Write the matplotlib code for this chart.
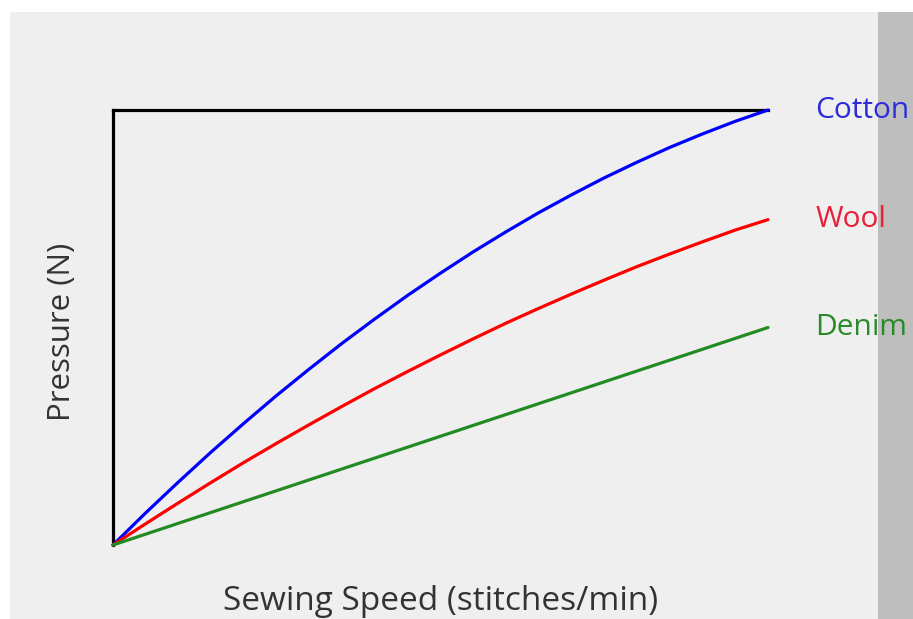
import matplotlib
matplotlib.use("Agg")
import matplotlib.pyplot as plt
from matplotlib.patches import Rectangle

# Data (normalized sewing speed vs pressure)
speed = [0.0, 0.05, 0.10, 0.15, 0.20, 0.25, 0.30, 0.35, 0.40, 0.45, 0.50,
         0.55, 0.60, 0.65, 0.70, 0.75, 0.80, 0.85, 0.90, 0.95, 1.0]
cotton = [0.0, 0.074, 0.145, 0.214, 0.28, 0.344, 0.405, 0.464, 0.52, 0.574, 0.625,
          0.674, 0.72, 0.764, 0.805, 0.844, 0.88, 0.914, 0.945, 0.974, 1.0]
wool = [0.0, 0.049, 0.097, 0.144, 0.19, 0.234, 0.277, 0.319, 0.36, 0.399, 0.437,
        0.474, 0.51, 0.544, 0.577, 0.609, 0.64, 0.669, 0.697, 0.724, 0.748]
denim = [0.0, 0.025, 0.05, 0.075, 0.10, 0.125, 0.15, 0.175, 0.20, 0.225, 0.25,
         0.275, 0.30, 0.325, 0.35, 0.375, 0.40, 0.425, 0.45, 0.475, 0.50]
series_names = ["Cotton", "Wool", "Denim"]
series_colors = ["#0000ff", "#ff0000", "#228b22"]
label_colors = ["#2b2bdc", "#e8203a", "#2a8a2a"]

plt.rcParams['font.family'] = ['Open Sans', 'DejaVu Sans']

W, H = 913, 619
fig = plt.figure(figsize=(W / 100, H / 100), dpi=100)
fig.patch.set_facecolor("white")

# panel background and right strip
fig.patches.append(Rectangle((10 / W, 0), (878 - 10) / W, (H - 12) / H,
                             transform=fig.transFigure, facecolor="#efefef",
                             edgecolor="none", zorder=-10))
fig.patches.append(Rectangle((878 / W, 0), (W - 878) / W, (H - 12) / H,
                             transform=fig.transFigure, facecolor="#bebebe",
                             edgecolor="none", zorder=-9))

ax = fig.add_axes([113 / W, 1 - 545 / H, (768 - 113) / W, (545 - 110) / H])
ax.set_facecolor("none")
ax.set_xlim(0, 1)
ax.set_ylim(0, 1)
for s in ["right", "bottom"]:
    ax.spines[s].set_visible(False)
for s in ["left", "top"]:
    ax.spines[s].set_linewidth(2.3)
    ax.spines[s].set_color("black")
ax.set_xticks([])
ax.set_yticks([])

for name, vals, c, lc in zip(series_names, [cotton, wool, denim], series_colors, label_colors):
    ax.plot(speed, vals, color=c, lw=2.3, clip_on=False, zorder=3,
            solid_capstyle="round", solid_joinstyle="round")
    ax.annotate(name, xy=(speed[-1], vals[-1]), xytext=(34, 0),
                textcoords="offset points", color=lc, fontsize=21.5,
                va="center", ha="left", annotation_clip=False)

ax.set_xlabel("Sewing Speed (stitches/min)", fontsize=24, color="#333333",
              va="center")
ax.xaxis.set_label_coords(0.5, -0.131)
ax.set_ylabel("Pressure (N)", fontsize=22.5, color="#333333", va="center")
ax.yaxis.set_label_coords(-0.078, 0.49)

fig.savefig("out.png", dpi=100, facecolor=fig.get_facecolor())
